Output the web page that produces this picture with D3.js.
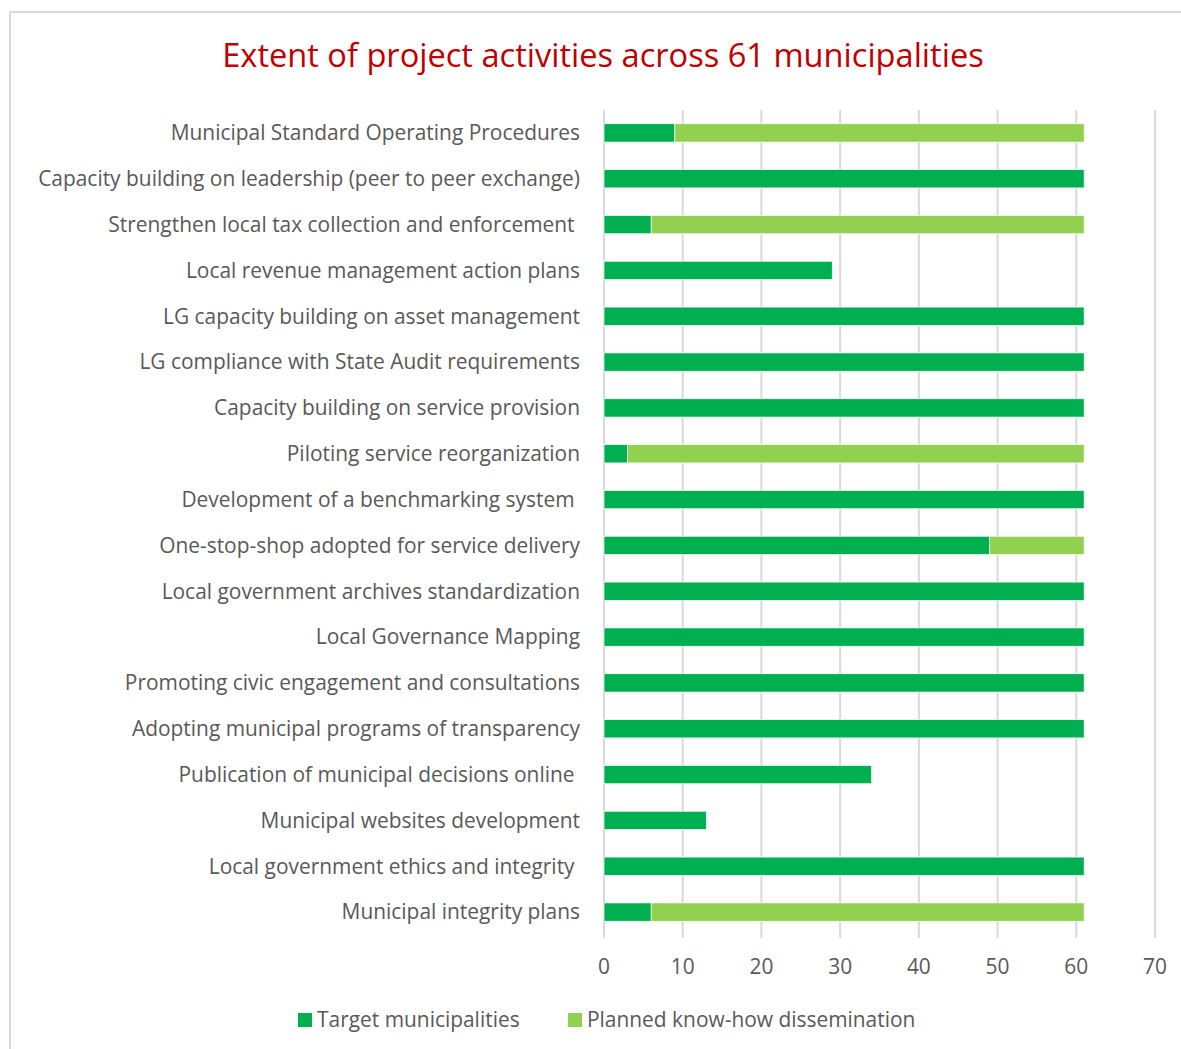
<!DOCTYPE html>
<html><head><meta charset="utf-8">
<script src="https://cdn.jsdelivr.net/npm/d3@7"></script>
<style>
html,body{margin:0;padding:0;background:#fff;}
svg{display:block;}
text{white-space:pre;}
</style></head>
<body>
<svg id="chart" width="1181" height="1049"></svg>
<script>
const categories = [
  "Municipal Standard Operating Procedures",
  "Capacity building on leadership (peer to peer exchange)",
  "Strengthen local tax collection and enforcement ",
  "Local revenue management action plans",
  "LG capacity building on asset management",
  "LG compliance with State Audit requirements",
  "Capacity building on service provision",
  "Piloting service reorganization",
  "Development of a benchmarking system ",
  "One-stop-shop adopted for service delivery",
  "Local government archives standardization",
  "Local Governance Mapping",
  "Promoting civic engagement and consultations",
  "Adopting municipal programs of transparency",
  "Publication of municipal decisions online ",
  "Municipal websites development",
  "Local government ethics and integrity ",
  "Municipal integrity plans"
];
const targetMunicipalities = [9,61,6,29,61,61,61,3,61,49,61,61,61,61,34,13,61,6];
const plannedDissemination = [52,0,55,0,0,0,0,58,0,12,0,0,0,0,0,0,0,55];
const seriesNames = ["Target municipalities","Planned know-how dissemination"];
const xTicks = [0,10,20,30,40,50,60,70];
const title = "Extent of project activities across 61 municipalities";

const colors = ["#00B050","#92D050"];
const svg = d3.select("#chart");
const font = "'Open Sans', sans-serif";

// fit a font size so a string has a given width
function fitSize(str, width){
  const t = svg.append("text").attr("font-family",font).attr("font-size",20).text(str);
  const w = t.node().getComputedTextLength();
  t.remove();
  return 20*width/w;
}
const labelSize = fitSize(categories[1], 542);
const titleSize = fitSize(title, 762);

// frame
svg.append("rect").attr("x",10).attr("y",12).attr("width",1200).attr("height",1100)
  .attr("fill","#fff").attr("stroke","#d9d9d9").attr("stroke-width",2);

svg.append("text").attr("x",603).attr("y",67).attr("text-anchor","middle")
  .attr("font-family",font).attr("font-size",titleSize).attr("fill","#C00000").text(title);

const x = d3.scaleLinear().domain([0,70]).range([604,1155]);
const y = d3.scaleBand().domain(categories).range([110,935]).paddingInner(0.6).paddingOuter(0.3);

// gridlines
svg.append("g").selectAll("line").data(xTicks).join("line")
  .attr("x1",d=>x(d)).attr("x2",d=>x(d)).attr("y1",110).attr("y2",938)
  .attr("stroke","#d9d9d9").attr("stroke-width",2);

const stacked = d3.stack().keys([0,1]).value((d,k)=>d[k])(categories.map((c,i)=>{const o=[targetMunicipalities[i],plannedDissemination[i]]; o.cat=c; return o;}));

svg.append("g").selectAll("g").data(stacked).join("g").attr("fill",(d,i)=>colors[i])
  .selectAll("rect").data(d=>d.filter(s=>s[1]>s[0])).join("rect")
  .attr("x",d=>x(d[0])).attr("width",d=>x(d[1])-x(d[0]))
  .attr("y",d=>y(d.data.cat)).attr("height",y.bandwidth())
  .attr("stroke","#fff").attr("stroke-width",0.7);

// category labels
svg.append("g").selectAll("text").data(categories).join("text")
  .attr("x",580).attr("y",d=>y(d)+y.bandwidth()/2).attr("dy","0.35em")
  .attr("text-anchor","end").attr("font-family",font).attr("font-size",labelSize)
  .attr("fill","#595959").text(d=>d);

// x tick labels
svg.append("g").selectAll("text").data(xTicks).join("text")
  .attr("x",d=>x(d)).attr("y",974).attr("text-anchor","middle")
  .attr("font-family",font).attr("font-size",labelSize).attr("fill","#595959").text(d=>d);

// legend
const lg = svg.append("g");
const legX = [298,568];
seriesNames.forEach((n,i)=>{
  lg.append("rect").attr("x",legX[i]).attr("y",1013).attr("width",14).attr("height",14).attr("fill",colors[i]);
  lg.append("text").attr("x",legX[i]+19).attr("y",1027).attr("font-family",font).attr("font-size",labelSize)
    .attr("fill","#595959").text(n);
});
</script>
</body></html>
